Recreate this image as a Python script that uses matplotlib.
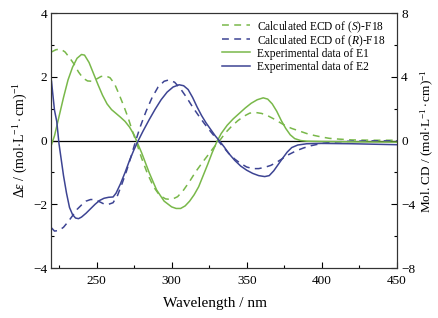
import matplotlib
matplotlib.use("Agg")
import matplotlib.pyplot as plt
from matplotlib.ticker import MultipleLocator
from matplotlib.lines import Line2D

plt.rcParams['font.family'] = ['Liberation Serif', 'DejaVu Serif']
plt.rcParams['mathtext.fontset'] = 'custom'
plt.rcParams['mathtext.rm'] = 'Liberation Serif'
plt.rcParams['mathtext.it'] = 'Liberation Serif:italic'

# Calculated ECD of (S)-F18 (left axis, Δε)
s_wl = [220, 223, 226, 229, 232, 235, 238, 241, 244, 247, 250, 253, 256, 259, 262, 265, 268, 271, 274, 277,
        280, 284, 288, 292, 296, 300, 304, 308, 312, 316, 320, 324, 328, 332, 336, 340, 344, 348, 352, 356,
        360, 364, 368, 372, 376, 380, 385, 390, 395, 400, 405, 410, 420, 435, 450]
s_de = [2.78, 2.85, 2.87, 2.78, 2.6, 2.4, 2.15, 1.96, 1.87, 1.86, 1.93, 2.01, 2.03, 1.97, 1.78, 1.45, 1.1, 0.72, 0.28, -0.12,
        -0.55, -1.05, -1.45, -1.72, -1.83, -1.85, -1.76, -1.55, -1.28, -0.98, -0.72, -0.47, -0.22, 0.0, 0.25, 0.45, 0.62, 0.76, 0.86, 0.88,
        0.85, 0.78, 0.68, 0.57, 0.46, 0.38, 0.3, 0.22, 0.16, 0.11, 0.07, 0.05, 0.02, 0.01, 0.01]

# Calculated ECD of (R)-F18 (left axis, Δε)
r_wl = [220, 222, 225, 228, 231, 234, 237, 240, 243, 246, 249, 252, 255, 258, 261, 264, 267, 270, 273, 276,
        279, 283, 287, 291, 295, 298, 302, 306, 310, 314, 318, 322, 326, 330, 334, 338, 342, 346, 350, 354,
        358, 362, 366, 370, 374, 378, 383, 388, 393, 400, 405, 410, 420, 435, 450]
r_de = [-2.74, -2.84, -2.82, -2.72, -2.55, -2.36, -2.16, -2.02, -1.9, -1.85, -1.85, -1.92, -1.99, -2.0, -1.95, -1.72, -1.35, -0.95, -0.5, -0.02,
        0.42, 0.92, 1.35, 1.68, 1.86, 1.9, 1.83, 1.62, 1.35, 1.05, 0.78, 0.52, 0.28, 0.05, -0.18, -0.4, -0.58, -0.72, -0.83, -0.88,
        -0.88, -0.84, -0.78, -0.68, -0.56, -0.44, -0.32, -0.23, -0.16, -0.09, -0.06, -0.04, -0.02, -0.01, -0.01]

# Experimental data of E1 (right axis, Mol. CD)
e1_wl = [220, 222, 225, 228, 231, 234, 237, 240, 242, 245, 248, 251, 254, 257, 260, 263, 266, 269, 272, 275,
         277, 280, 285, 290, 295, 300, 303, 306, 309, 312, 315, 318, 321, 324, 327, 330, 333, 337, 341, 345,
         349, 353, 357, 361, 364, 367, 370, 373, 376, 379, 382, 386, 390, 400, 420, 450]
e1_cd = [-0.26, 0.3, 1.5, 2.7, 3.8, 4.6, 5.16, 5.4, 5.36, 4.9, 4.2, 3.5, 2.84, 2.3, 1.94, 1.7, 1.46, 1.2, 0.84, 0.36,
         -0.1, -0.76, -2.0, -3.1, -3.8, -4.16, -4.26, -4.26, -4.1, -3.8, -3.4, -2.9, -2.2, -1.5, -0.76, -0.1, 0.44, 0.96, 1.36, 1.7,
         2.04, 2.34, 2.56, 2.68, 2.6, 2.3, 1.84, 1.26, 0.76, 0.36, 0.12, 0.0, -0.04, -0.06, -0.08, -0.1]

# Experimental data of E2 (right axis, Mol. CD)
e2_wl = [220, 221, 222, 223.5, 225, 226.5, 228, 230, 232, 234, 236, 238, 240, 243, 246, 249, 252, 255, 258, 261,
         263, 266, 269, 272, 275, 278, 281, 285, 289, 293, 297, 301, 305, 308, 311, 314, 317, 320, 323, 326,
         329, 332, 335, 338, 342, 346, 350, 354, 358, 362, 365, 368, 371, 374, 377, 380, 384, 390, 400, 420, 450]
e2_cd = [3.72, 2.8, 1.9, 1.2, -0.2, -1.2, -2.2, -3.3, -4.2, -4.64, -4.86, -4.9, -4.8, -4.56, -4.28, -4.0, -3.76, -3.62, -3.56, -3.54,
         -3.3, -2.7, -2.0, -1.24, -0.56, 0.04, 0.6, 1.3, 1.96, 2.56, 3.04, 3.36, 3.5, 3.44, 3.2, 2.7, 2.1, 1.56, 1.1, 0.7,
         0.3, -0.04, -0.4, -0.8, -1.24, -1.6, -1.86, -2.06, -2.2, -2.26, -2.2, -1.9, -1.5, -1.1, -0.72, -0.44, -0.28, -0.2, -0.18, -0.2, -0.26]

labels = ["Calculated ECD of ($\\mathit{S}$)-F18", "Calculated ECD of ($\\mathit{R}$)-F18",
          "Experimental data of E1", "Experimental data of E2"]

green = '#79b84a'
blue = '#3d4493'

fig = plt.figure(figsize=(4.39, 3.18), dpi=100)
ax = fig.add_axes([0.1173, 0.157, 0.7867, 0.802])
ax2 = ax.twinx()

lw = 1.1
dash = (4.5, 3.5)
ax.axhline(0, color='black', lw=0.9, zorder=1)
ax.plot(s_wl, s_de, color=green, lw=lw, dashes=dash)
ax.plot(r_wl, r_de, color=blue, lw=lw, dashes=dash)
ax2.plot(e1_wl, e1_cd, color=green, lw=lw)
ax2.plot(e2_wl, e2_cd, color=blue, lw=lw)

ax.set_xlim(220, 450)
ax.set_ylim(-4, 4)
ax2.set_ylim(-8, 8)

ax.xaxis.set_major_locator(MultipleLocator(50))
ax.xaxis.set_minor_locator(MultipleLocator(25))
ax.yaxis.set_major_locator(MultipleLocator(2))
ax.yaxis.set_minor_locator(MultipleLocator(1))
ax2.yaxis.set_major_locator(MultipleLocator(4))
ax2.yaxis.set_minor_locator(MultipleLocator(2))

for a in (ax, ax2):
    a.tick_params(which='major', direction='in', length=4, width=0.8, labelsize=9.5, pad=3)
    a.tick_params(which='minor', direction='in', length=2.5, width=0.8)
    for sp in a.spines.values():
        sp.set_linewidth(0.8)
        sp.set_color('#333333')
ax.tick_params(axis='x', which='both', top=False, pad=5)
ax.tick_params(axis='y', which='both', right=False)

ax.set_xlabel("Wavelength / nm", fontsize=11)
ax.xaxis.set_label_coords(0.473, -0.115)
ax.set_ylabel("$\\Delta\\varepsilon$ / (mol$\\cdot$L$^{-1}\\cdot$cm)$^{-1}$", fontsize=10, labelpad=2)
ax2.set_ylabel("Mol. CD / (mol$\\cdot$L$^{-1}\\cdot$cm)$^{-1}$", fontsize=9.5, labelpad=3)

# Legend, laid out row by row with even spacing
styles = [(green, dash), (blue, dash), (green, None), (blue, None)]
row_y = [0.953, 0.900, 0.847, 0.794]
for (col, ds), lab, yy in zip(styles, labels, row_y):
    ln = Line2D([0.4935, 0.5745], [yy, yy], transform=ax2.transAxes, color=col, lw=lw)
    if ds is not None:
        ln.set_dashes(ds)
    ax2.add_line(ln)
    ax2.text(0.594, yy, lab, transform=ax2.transAxes, fontsize=8.3,
             va='center_baseline', ha='left')

fig.savefig("out.png", dpi=100)
